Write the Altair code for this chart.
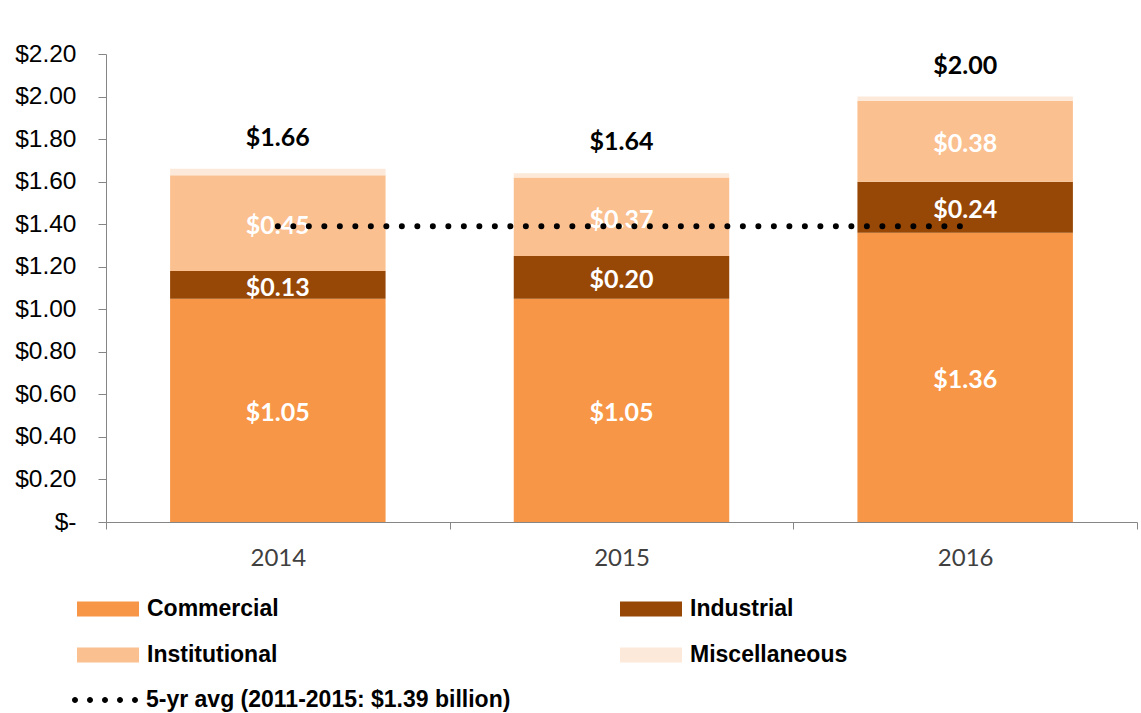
import altair as alt
import pandas as pd

years = ["2014", "2015", "2016"]
categories = ["Commercial", "Industrial", "Institutional", "Miscellaneous"]
commercial = [1.05, 1.05, 1.36]
industrial = [0.13, 0.20, 0.24]
institutional = [0.45, 0.37, 0.38]
miscellaneous = [0.03, 0.02, 0.02]
totals = [1.66, 1.64, 2.00]
labelled = [True, True, True, False]
colors = ["#F79646", "#974706", "#FAC090", "#FDE9D9"]
avg_label = "5-yr avg (2011-2015: $1.39 billion)"
avg_value = 1.39
avg_from = "2014"
avg_to = "2016"
y_ticks = [0.0, 0.2, 0.4, 0.6, 0.8, 1.0, 1.2, 1.4, 1.6, 1.8, 2.0, 2.2]

series = [commercial, industrial, institutional, miscellaneous]
rows = []
for i, yr in enumerate(years):
    base = 0.0
    for c, cat in enumerate(categories):
        v = series[c][i]
        rows.append({
            "year": yr, "category": cat, "order": c,
            "y0": base, "y1": base + v, "mid": base + v / 2,
            "label": f"${v:.2f}", "show": labelled[c],
        })
        base += v
seg = pd.DataFrame(rows)
tot = pd.DataFrame({"year": years, "total": totals,
                    "tlabel": [f"${t:.2f}" for t in totals]})
avg = pd.DataFrame({"start": [avg_from], "end": [avg_to],
                    "avg": [avg_value], "series": [avg_label]})

# legend glyph: five round dots in the unit symbol box
dot_r = 0.1
dots_path = "".join(
    f"M{cx - dot_r},0A{dot_r},{dot_r} 0 1,0 {cx + dot_r},0A{dot_r},{dot_r} 0 1,0 {cx - dot_r},0Z"
    for cx in (-1.0, -0.5, 0.0, 0.5, 1.0)
)

xscale = alt.Scale(domain=years, paddingInner=0, paddingOuter=0)
yscale = alt.Scale(domain=[0, 2.2], nice=False, zero=True)

x_enc = alt.X("year:N", scale=xscale, title=None,
              axis=alt.Axis(labelAngle=0, tickBand="extent", tickSize=7,
                            domainColor="#868686", tickColor="#868686",
                            labelFont="Lato", labelFontSize=24,
                            labelColor="#404040", labelPadding=17))
y_axis = alt.Axis(values=y_ticks, tickSize=8, grid=False,
                  domainColor="#868686", tickColor="#868686",
                  labelFont="Liberation Sans", labelFontSize=24.5,
                  labelColor="black", labelPadding=22,
                  labelExpr="datum.value == 0 ? '$-\u00a0\u00a0' : '$' + format(datum.value, '.2f')")

bars = alt.Chart(seg).mark_bar(width=alt.RelativeBandSize(0.627)).encode(
    x=x_enc,
    y=alt.Y("y0:Q", scale=yscale, axis=y_axis, title=None),
    y2="y1:Q",
    fill=alt.Fill("category:N",
                  scale=alt.Scale(domain=categories, range=colors),
                  legend=alt.Legend(
                      title=None, orient="none", legendX=-29, legendY=524,
                      direction="horizontal",
                      columns=2, columnPadding=341, rowPadding=3,
                      symbolType="M-1,-0.24H1V0.24H-1Z", symbolSize=3844,
                      symbolStrokeWidth=0, padding=0,
                      labelFont="Liberation Sans", labelFontWeight="bold",
                      labelFontSize=23, labelColor="black", labelOffset=8,
                      labelLimit=400)),
)

seg_text = alt.Chart(seg).transform_filter("datum.show").mark_text(
    font="Lato", fontWeight="bold", fontSize=25, color="white", baseline="middle", dy=3
).encode(x=alt.X("year:N", scale=xscale), y=alt.Y("mid:Q", scale=yscale), text="label:N")

tot_text = alt.Chart(tot).mark_text(
    font="Lato", fontWeight="bold", fontSize=25, color="black", baseline="middle", dy=-31
).encode(x=alt.X("year:N", scale=xscale), y=alt.Y("total:Q", scale=yscale), text="tlabel:N")

rule = alt.Chart(avg).mark_rule(strokeWidth=6, strokeDash=[0.001, 15.5], strokeCap="round").encode(
    x=alt.X("start:N", scale=xscale),
    x2="end:N",
    y=alt.Y("avg:Q", scale=yscale),
    stroke=alt.Stroke("series:N", scale=alt.Scale(range=["black"]),
                      legend=alt.Legend(
                          title=None, orient="none", legendX=-31, legendY=616,
                          symbolType=dots_path, symbolSize=3600,
                          symbolStrokeWidth=0, symbolFillColor="black",
                          padding=0,
                          labelFont="Liberation Sans", labelFontWeight="bold",
                          labelFontSize=23, labelColor="black", labelOffset=11,
                          labelLimit=600)),
)

chart = alt.layer(bars, seg_text, tot_text, rule).properties(
    width=1031, height=468,
    autosize=alt.AutoSizeParams(type="none"),
    padding={"left": 106, "top": 54, "right": 4, "bottom": 191},
).configure_view(stroke=None).configure_axis(grid=False)

chart.save("out.html", embed_options={"renderer": "svg", "actions": False})
